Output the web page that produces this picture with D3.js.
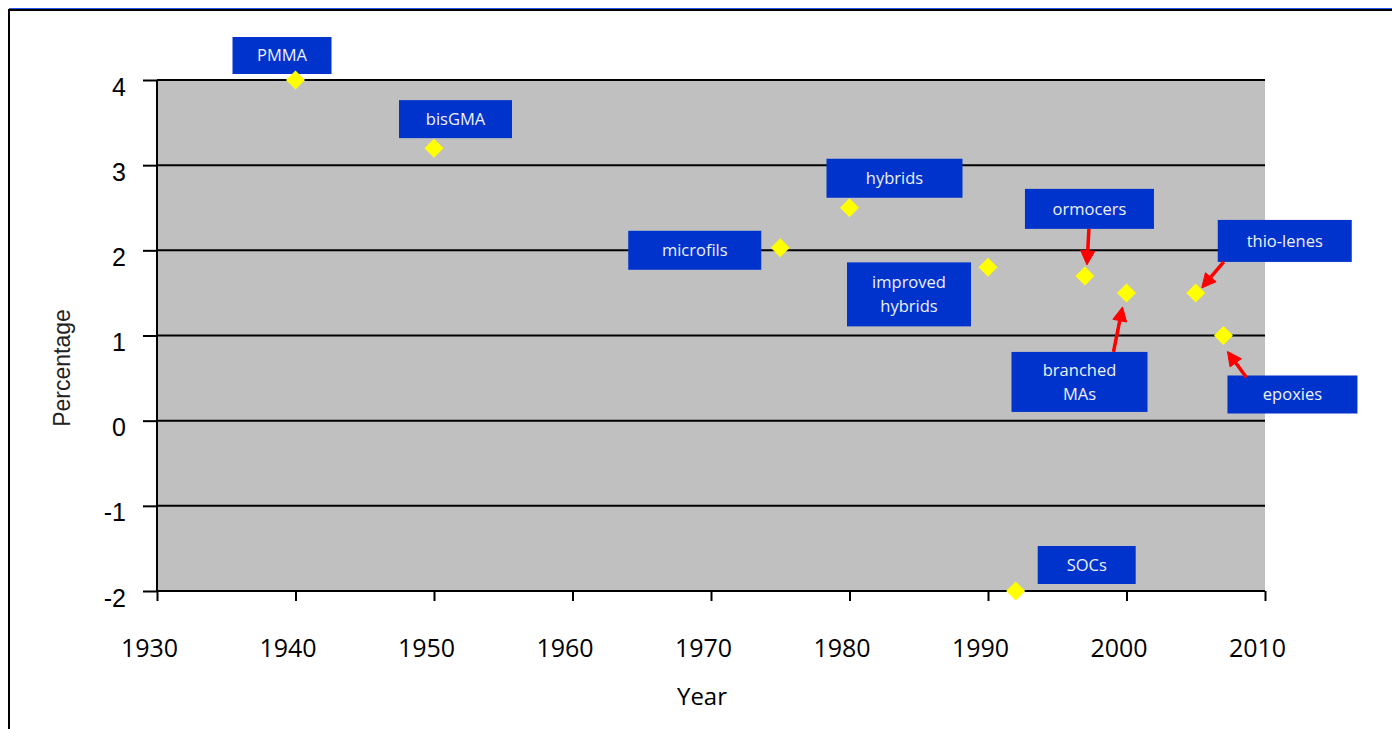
<!DOCTYPE html>
<html>
<head>
<meta charset="utf-8">
<script src="https://cdn.jsdelivr.net/npm/d3@7"></script>
<style>
  html, body { margin: 0; padding: 0; background: #fff; }
  svg { display: block; }
</style>
</head>
<body>
<svg id="chart" width="1392" height="729"></svg>
<script>
// ---- data ----
const materials = ["PMMA", "bisGMA", "microfils", "hybrids", "improved hybrids", "SOCs", "ormocers", "branched MAs", "thio-lenes", "epoxies"];
const years     = [1940, 1950, 1975, 1980, 1990, 1992, 1997, 2000, 2005, 2007];
const percent   = [4.0, 3.2, 2.03, 2.5, 1.8, -2.0, 1.7, 1.5, 1.5, 1.0];
const xTicks = [1930, 1940, 1950, 1960, 1970, 1980, 1990, 2000, 2010];
const yTicks = [-2, -1, 0, 1, 2, 3, 4];
const xTitle = "Year";
const yTitle = "Percentage";

// ---- annotation layout (pixel offsets of label boxes from their points) ----
const labelLines = [["PMMA"], ["bisGMA"], ["microfils"], ["hybrids"], ["improved", "hybrids"], ["SOCs"], ["ormocers"], ["branched", "MAs"], ["thio-lenes"], ["epoxies"]];
const boxDx = [-13.5, 21.5, -85.5, 45, -79, 71, 4.5, -47, 89, 69];
const boxDy = [-24.5, -29, 2.5, -29.5, 27, -26, -67, 89, -52, 59];
const boxW  = [99, 113, 133, 136, 124, 98, 129, 136, 134, 130];
const boxH  = [37, 38, 39, 39, 64, 38, 40, 60, 42, 38];
// arrows: [index, startDx, startDy, tipDx, tipDy] relative to point
const arrows = [[6, 4, -47, 2, -11], [7, -13, 59, -4, 14], [8, 28, -31, 6, -5], [9, 23, 42, 4, 16]];

// ---- chart ----
const svg = d3.select("#chart");
const m = { left: 157, right: 1265, top: 80, bottom: 591 };
const x = d3.scaleLinear().domain([1930, 2010]).range([m.left, m.right]);
const y = d3.scaleLinear().domain([-2, 4]).range([m.bottom, m.top]);

// outer frame
svg.append("line").attr("x1", 9).attr("x2", 1392).attr("y1", 8.5).attr("y2", 8.5).attr("stroke", "#2a55ee").attr("stroke-width", 1);
svg.append("line").attr("x1", 9).attr("x2", 1392).attr("y1", 10).attr("y2", 10).attr("stroke", "#000").attr("stroke-width", 2);
svg.append("line").attr("x1", 9).attr("x2", 9).attr("y1", 9).attr("y2", 729).attr("stroke", "#000").attr("stroke-width", 2);

// plot area
svg.append("rect").attr("x", m.left).attr("y", m.top).attr("width", m.right - m.left).attr("height", m.bottom - m.top).attr("fill", "#c0c0c0");

// gridlines
svg.append("g").selectAll("line").data(yTicks).join("line")
  .attr("x1", m.left).attr("x2", m.right)
  .attr("y1", d => y(d)).attr("y2", d => y(d))
  .attr("stroke", "#000").attr("stroke-width", 2);

// y axis
const yAxis = svg.append("g").attr("transform", `translate(${m.left},0)`)
  .call(d3.axisLeft(y).tickValues(yTicks).tickSize(14).tickPadding(17).tickFormat(d => String(d)));
yAxis.select(".domain").attr("stroke", "#000").attr("stroke-width", 2).attr("d", `M0,${m.top}V${m.bottom}`);
yAxis.selectAll(".tick line").attr("stroke", "#000").attr("stroke-width", 2);
yAxis.selectAll(".tick text")
  .attr("font-family", "'Liberation Sans', Arial, sans-serif").attr("font-size", 25)
  .attr("fill", "#000").attr("dy", "0.6em");

// x axis
const xAxis = svg.append("g").attr("transform", `translate(0,${m.bottom})`)
  .call(d3.axisBottom(x).tickValues(xTicks).tickSize(10).tickPadding(42).tickFormat(d => String(d)));
xAxis.select(".domain").attr("stroke", "#000").attr("stroke-width", 2).attr("d", `M${m.left},0H${m.right}`);
xAxis.selectAll(".tick line").attr("stroke", "#000").attr("stroke-width", 2);
xAxis.selectAll(".tick text")
  .attr("font-family", "'Open Sans', sans-serif").attr("font-size", 25)
  .attr("fill", "#000").attr("dx", -8).attr("dy", "0.55em");

// axis titles
svg.append("text").attr("x", 702).attr("y", 705).attr("text-anchor", "middle")
  .attr("font-family", "'Open Sans', sans-serif").attr("font-size", 24).attr("fill", "#000").text(xTitle);
svg.append("text").attr("transform", "translate(70,368) rotate(-90)").attr("text-anchor", "middle")
  .attr("font-family", "'Liberation Sans', Arial, sans-serif").attr("font-size", 23).attr("fill", "#222").text(yTitle);

// points data
const pts = materials.map((name, i) => ({ name, year: years[i], pct: percent[i], i }));

// label boxes
const lab = svg.append("g").selectAll("g").data(pts).join("g")
  .attr("transform", d => `translate(${x(d.year) + boxDx[d.i]},${y(d.pct) + boxDy[d.i]})`);
lab.append("rect")
  .attr("x", d => -boxW[d.i] / 2).attr("y", d => -boxH[d.i] / 2)
  .attr("width", d => boxW[d.i]).attr("height", d => boxH[d.i])
  .attr("fill", "#0033cc");
lab.each(function(d) {
  const lines = labelLines[d.i];
  const g = d3.select(this);
  const lh = 24;
  lines.forEach((t, k) => {
    g.append("text")
      .attr("x", 0).attr("y", (k - (lines.length - 1) / 2) * lh)
      .attr("dy", "0.36em").attr("text-anchor", "middle")
      .attr("font-family", "'Open Sans', sans-serif").attr("font-size", 16.5)
      .attr("fill", "#eef0ff").text(t);
  });
});

// arrows
const arrG = svg.append("g");
arrows.forEach(([i, sdx, sdy, tdx, tdy]) => {
  const px = x(years[i]), py = y(percent[i]);
  const x1 = px + sdx, y1 = py + sdy, x2 = px + tdx, y2 = py + tdy;
  const ang = Math.atan2(y2 - y1, x2 - x1);
  const hl = 14, hw = 7;
  const bx = x2 - hl * Math.cos(ang), by = y2 - hl * Math.sin(ang);
  arrG.append("line").attr("x1", x1).attr("y1", y1).attr("x2", bx).attr("y2", by)
    .attr("stroke", "#ff0000").attr("stroke-width", 3.5);
  const p1 = [bx + hw * Math.sin(ang), by - hw * Math.cos(ang)];
  const p2 = [bx - hw * Math.sin(ang), by + hw * Math.cos(ang)];
  arrG.append("path").attr("d", `M${x2},${y2}L${p1[0]},${p1[1]}L${p2[0]},${p2[1]}Z`)
    .attr("fill", "#ff0000").attr("stroke", "#ff0000").attr("stroke-width", 1);
});

// diamonds
const r = 9.5;
svg.append("g").selectAll("path").data(pts).join("path")
  .attr("d", d => { const cx = x(d.year), cy = y(d.pct); return `M${cx},${cy - r}L${cx + r},${cy}L${cx},${cy + r}L${cx - r},${cy}Z`; })
  .attr("fill", "#ffff00");
</script>
</body>
</html>
